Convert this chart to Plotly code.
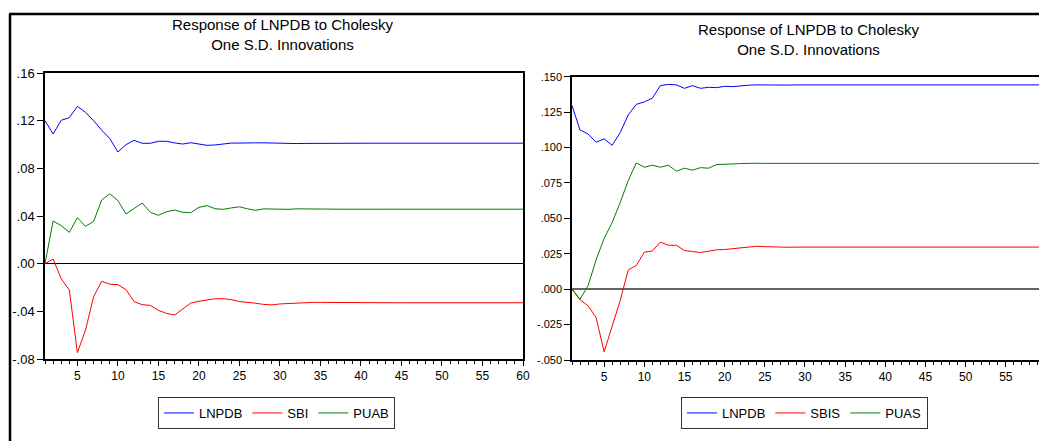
import plotly.graph_objects as go

# ---------------- data ----------------
steps = list(range(1, 61))

# Left panel: Response of LNPDB (LNPDB, SBI, PUAB shocks)
left_lnpdb = [
    0.1200, 0.1088, 0.1203, 0.1225, 0.1320, 0.1270, 0.1200, 0.1120, 0.1050, 0.0937,
    0.0999, 0.1035, 0.1010, 0.1010, 0.1027, 0.1027, 0.1013, 0.1004, 0.1015, 0.1007,
    0.0993, 0.0996, 0.1007, 0.1012, 0.1012, 0.1010, 0.1014, 0.1014, 0.1011, 0.1010,
    0.1009, 0.1008, 0.1009, 0.1010, 0.1011, 0.1011, 0.1010, 0.1010, 0.1011, 0.1011,
    0.1011, 0.1011, 0.1011, 0.1011, 0.1011, 0.1011, 0.1011, 0.1011, 0.1011, 0.1011,
    0.1011, 0.1011, 0.1011, 0.1011, 0.1011, 0.1011, 0.1011, 0.1011, 0.1011, 0.1011,
]
left_sbi = [
    0.0000, 0.0039, -0.0126, -0.0221, -0.0747, -0.0557, -0.0277, -0.0148, -0.0173, -0.0176,
    -0.0218, -0.0319, -0.0344, -0.0350, -0.0392, -0.0417, -0.0431, -0.0380, -0.0330, -0.0316,
    -0.0302, -0.0294, -0.0294, -0.0302, -0.0318, -0.0322, -0.0332, -0.0342, -0.0346, -0.0338,
    -0.0334, -0.0330, -0.0327, -0.0325, -0.0325, -0.0326, -0.0327, -0.0328, -0.0328, -0.0328,
    -0.0328, -0.0328, -0.0328, -0.0328, -0.0328, -0.0328, -0.0328, -0.0328, -0.0328, -0.0328,
    -0.0328, -0.0328, -0.0328, -0.0328, -0.0328, -0.0328, -0.0328, -0.0328, -0.0328, -0.0328,
]
left_puab = [
    0.0000, 0.0358, 0.0319, 0.0263, 0.0386, 0.0313, 0.0355, 0.0534, 0.0587, 0.0529,
    0.0417, 0.0461, 0.0509, 0.0431, 0.0406, 0.0436, 0.0450, 0.0431, 0.0428, 0.0473,
    0.0487, 0.0461, 0.0456, 0.0468, 0.0477, 0.0460, 0.0448, 0.0460, 0.0458, 0.0452,
    0.0456, 0.0460, 0.0458, 0.0456, 0.0457, 0.0458, 0.0457, 0.0456, 0.0457, 0.0457,
    0.0457, 0.0457, 0.0457, 0.0457, 0.0457, 0.0457, 0.0457, 0.0457, 0.0457, 0.0457,
    0.0457, 0.0457, 0.0457, 0.0457, 0.0457, 0.0457, 0.0457, 0.0457, 0.0457, 0.0457,
]

# Right panel: Response of LNPDB (LNPDB, SBIS, PUAS shocks)
right_lnpdb = [
    0.1296, 0.1124, 0.1096, 0.1037, 0.1061, 0.1016, 0.1105, 0.1230, 0.1305, 0.1322,
    0.1348, 0.1437, 0.1446, 0.1442, 0.1418, 0.1437, 0.1418, 0.1425, 0.1423, 0.1432,
    0.1430, 0.1437, 0.1440, 0.1442, 0.1443, 0.1442, 0.1442, 0.1441, 0.1442, 0.1442,
    0.1442, 0.1442, 0.1442, 0.1442, 0.1442, 0.1442, 0.1442, 0.1442, 0.1442, 0.1442,
    0.1442, 0.1442, 0.1442, 0.1442, 0.1442, 0.1442, 0.1442, 0.1442, 0.1442, 0.1442,
    0.1442, 0.1442, 0.1442, 0.1442, 0.1442, 0.1442, 0.1442, 0.1442, 0.1442, 0.1442,
]
right_sbis = [
    0.0000, -0.0075, -0.0118, -0.0200, -0.0442, -0.0263, -0.0080, 0.0136, 0.0167, 0.0261,
    0.0270, 0.0332, 0.0310, 0.0310, 0.0273, 0.0266, 0.0259, 0.0268, 0.0278, 0.0280,
    0.0287, 0.0292, 0.0296, 0.0303, 0.0300, 0.0297, 0.0294, 0.0296, 0.0297, 0.0297,
    0.0297, 0.0297, 0.0297, 0.0297, 0.0297, 0.0297, 0.0297, 0.0297, 0.0297, 0.0297,
    0.0297, 0.0297, 0.0297, 0.0297, 0.0297, 0.0297, 0.0297, 0.0297, 0.0297, 0.0297,
    0.0297, 0.0297, 0.0297, 0.0297, 0.0297, 0.0297, 0.0297, 0.0297, 0.0297, 0.0297,
]
right_puas = [
    0.0000, -0.0071, 0.0024, 0.0207, 0.0358, 0.0470, 0.0612, 0.0767, 0.0891, 0.0861,
    0.0875, 0.0861, 0.0875, 0.0833, 0.0854, 0.0840, 0.0858, 0.0854, 0.0880, 0.0880,
    0.0884, 0.0887, 0.0890, 0.0889, 0.0888, 0.0887, 0.0887, 0.0888, 0.0888, 0.0888,
    0.0888, 0.0888, 0.0888, 0.0888, 0.0888, 0.0888, 0.0888, 0.0888, 0.0888, 0.0888,
    0.0888, 0.0888, 0.0888, 0.0888, 0.0888, 0.0888, 0.0888, 0.0888, 0.0888, 0.0888,
    0.0888, 0.0888, 0.0888, 0.0888, 0.0888, 0.0888, 0.0888, 0.0888, 0.0888, 0.0888,
]

left_yticks = [-0.08, -0.04, 0.0, 0.04, 0.08, 0.12, 0.16]
left_ytext = ["-.08", "-.04", ".00", ".04", ".08", ".12", ".16"]
right_yticks = [-0.05, -0.025, 0.0, 0.025, 0.05, 0.075, 0.10, 0.125, 0.15]
right_ytext = ["-.050", "-.025", ".000", ".025", ".050", ".075", ".100", ".125", ".150"]

title_text = "Response of LNPDB to Cholesky<br>One S.D. Innovations"

# ---------------- layout helpers ----------------
W, H = 1047, 441
OFF = 8  # page body margin offset of the plot div
FONT = "Liberation Sans, Arial, sans-serif"


def px(x):
    return (x - OFF) / W


def py(y):
    return 1 - (y - OFF) / H


BLUE, RED, GREEN = "#0000FF", "#FF0000", "#008000"

fig = go.Figure()

for name, vals, col in [("LNPDB", left_lnpdb, BLUE), ("SBI", left_sbi, RED), ("PUAB", left_puab, GREEN)]:
    fig.add_trace(go.Scatter(x=steps, y=vals, mode="lines", name=name,
                             line=dict(color=col, width=1),
                             xaxis="x", yaxis="y", legend="legend"))

for name, vals, col in [("LNPDB", right_lnpdb, BLUE), ("SBIS", right_sbis, RED), ("PUAS", right_puas, GREEN)]:
    fig.add_trace(go.Scatter(x=steps, y=vals, mode="lines", name=name,
                             line=dict(color=col, width=1),
                             xaxis="x2", yaxis="y2", legend="legend2"))

xcommon = dict(range=[1, 60], tickmode="linear", tick0=0, dtick=5,
               ticks="outside", ticklen=5, tickcolor="black", tickwidth=1,
               minor=dict(dtick=1, tick0=0, ticks="outside", ticklen=3,
                          tickcolor="black", tickwidth=1),
               showline=True, mirror=True, linecolor="black", linewidth=1.5,
               showgrid=False, zeroline=False, automargin=False,
               tickfont=dict(family=FONT, size=12, color="black"))

ycommon = dict(tickmode="array", ticks="outside", ticklen=6, tickcolor="black",
               showline=True, mirror=True, linecolor="black", linewidth=1.5,
               showgrid=False, zeroline=True, automargin=False)

legcommon = dict(yanchor="top", xanchor="left", orientation="h",
                 bordercolor="#333333", borderwidth=1, bgcolor="white",
                 font=dict(family=FONT, size=13, color="black"))

fig.update_layout(
    width=W, height=H,
    margin=dict(l=0, r=0, t=0, b=0),
    paper_bgcolor="white", plot_bgcolor="white",
    font=dict(family=FONT, color="black"),
    xaxis=dict(domain=[px(45), px(523)], anchor="y", **xcommon),
    yaxis=dict(domain=[py(359), py(73)], anchor="x", range=[-0.08, 0.16],
               tickvals=left_yticks, ticktext=left_ytext,
               tickfont=dict(family=FONT, size=13, color="black"),
               zerolinecolor="black", zerolinewidth=1, **ycommon),
    xaxis2=dict(domain=[px(572), px(1046)], anchor="y2", **xcommon),
    yaxis2=dict(domain=[py(360), py(76.7)], anchor="x2", range=[-0.05, 0.15],
                tickvals=right_yticks, ticktext=right_ytext,
                tickfont=dict(family=FONT, size=11, color="black"),
                zerolinecolor="#666666", zerolinewidth=1.5, **ycommon),
    legend=dict(x=px(158), y=py(397), **legcommon),
    legend2=dict(x=px(681), y=py(397), **legcommon),
    showlegend=True,
    annotations=[
        dict(text=title_text, x=px(282), y=py(35), xref="paper", yref="paper",
             xanchor="center", yanchor="middle", showarrow=False,
             font=dict(family=FONT, size=15, color="black")),
        dict(text=title_text, x=px(808), y=py(39), xref="paper", yref="paper",
             xanchor="center", yanchor="middle", showarrow=False,
             font=dict(family=FONT, size=15, color="black")),
    ],
    shapes=[
        dict(type="line", xref="paper", yref="paper", x0=px(10), x1=px(10),
             y0=py(14), y1=0, line=dict(color="black", width=2.5)),
        dict(type="line", xref="paper", yref="paper", x0=px(9), x1=1,
             y0=py(14), y1=py(14), line=dict(color="black", width=2.5)),
    ],
)

fig.write_html("out.html")
